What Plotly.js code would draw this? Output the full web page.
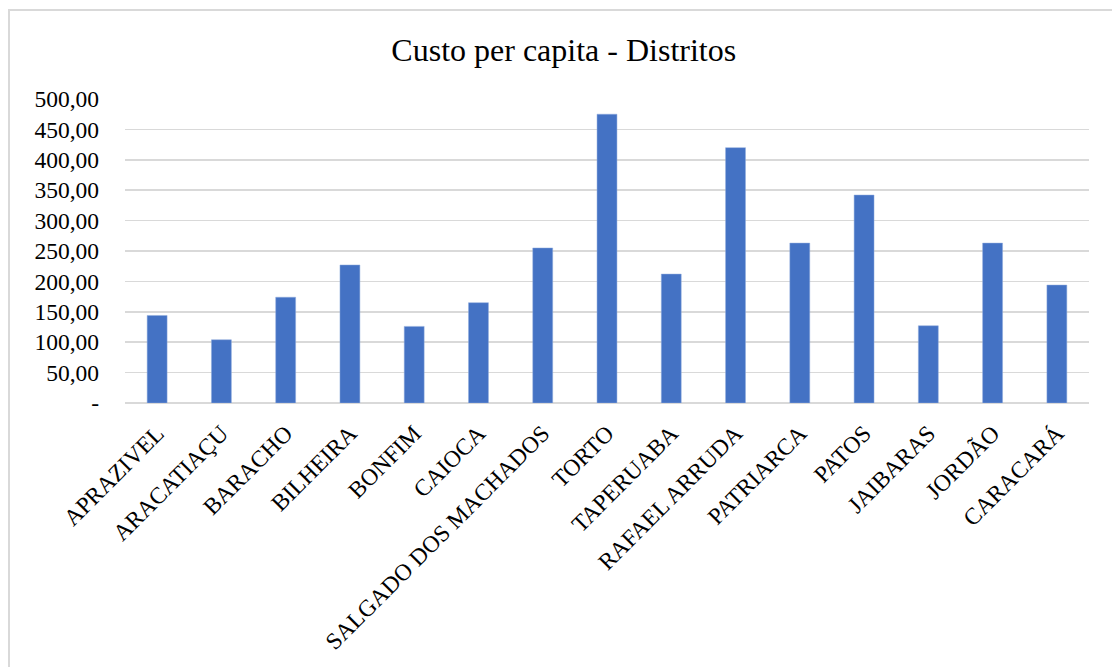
<!DOCTYPE html>
<html>
<head>
<meta charset="utf-8">
<script src="https://cdn.plot.ly/plotly-3.0.1.min.js"></script>
<style>
html,body{margin:0;padding:0;background:#fff;}
#wrap{position:relative;width:1112px;height:667px;overflow:hidden;}
#chart{position:absolute;left:0;top:0;width:1112px;height:667px;}
#frame{position:absolute;left:8px;top:9px;width:1200px;height:800px;border-left:2px solid #d9d9d9;border-top:2px solid #d9d9d9;pointer-events:none;}
</style>
</head>
<body>
<div id="wrap"><div id="chart"></div><div id="frame"></div></div>
<script>
var distritos = ["APRAZIVEL","ARACATIAÇU","BARACHO","BILHEIRA","BONFIM","CAIOCA","SALGADO DOS MACHADOS","TORTO","TAPERUABA","RAFAEL ARRUDA","PATRIARCA","PATOS","JAIBARAS","JORDÃO","CARACARÁ"];
var custo = [144, 104, 174, 227, 126, 165, 255, 475, 212, 420, 263, 342, 127, 263, 194];
var yTickVals = [0,50,100,150,200,250,300,350,400,450,500];
var yTickText = ["-","50,00","100,00","150,00","200,00","250,00","300,00","350,00","400,00","450,00","500,00"];

var trace = {
  type: "bar",
  x: distritos,
  y: custo,
  marker: {color: "#4472C4", line: {color: "#8faadc", width: 0.5}},
  hoverinfo: "x+y"
};
var layout = {
  width: 1112, height: 667,
  paper_bgcolor: "rgba(0,0,0,0)",
  plot_bgcolor: "#fff",
  margin: {l: 125, r: 23, t: 99, b: 264},
  title: {text: "Custo per capita - Distritos", font: {family: "Liberation Serif, Times New Roman, serif", size: 32, color: "#000"}, x: 0.507, xanchor: "center", y: 0.925, yanchor: "middle"},
  bargap: 0.69,
  showlegend: false,
  xaxis: {
    tickangle: -45,
    tickfont: {family: "Liberation Serif, Times New Roman, serif", size: 23.5, color: "#000"},
    showgrid: false, zeroline: false, showline: false, ticks: "",
    ticklabelstandoff: 11,
    automargin: false
  },
  yaxis: {
    range: [0, 500],
    tickvals: yTickVals, ticktext: yTickText,
    tickfont: {family: "Liberation Serif, Times New Roman, serif", size: 23.5, color: "#000"},
    showgrid: true, gridcolor: "#d9d9d9", gridwidth: 1.5,
    zeroline: true, zerolinecolor: "#d9d9d9", zerolinewidth: 1.5,
    showline: false, ticks: "", ticklabelstandoff: 25,
    automargin: false, fixedrange: true
  }
};
Plotly.newPlot("chart", [trace], layout, {displayModeBar: false, staticPlot: true});
</script>
</body>
</html>
